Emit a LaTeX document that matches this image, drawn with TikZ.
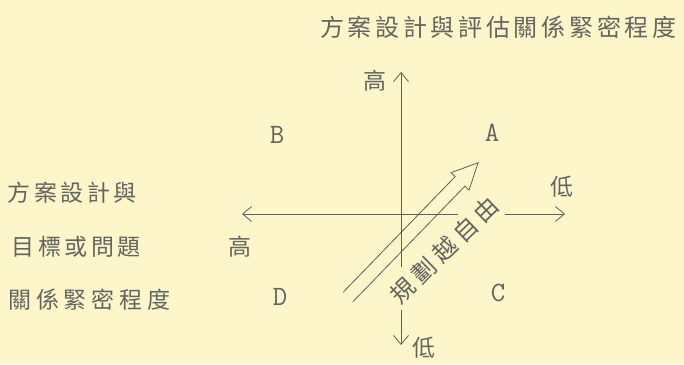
\documentclass[tikz,border=0pt]{standalone}
\usepackage{fontspec}
\newfontfamily\cjk{Noto Sans CJK TC}
\usetikzlibrary{arrows.meta}
\ExplSyntaxOn
\NewDocumentCommand\spreadchars{mm}{\tl_map_inline:nn{#2}{\makebox[#1]{##1}}}
\ExplSyntaxOff
\definecolor{bg}{RGB}{252,246,202}
\definecolor{ink}{RGB}{95,95,92}
\definecolor{txt}{RGB}{100,100,96}
\tikzset{
  lbl/.style={inner sep=0pt, text=txt, font=\cjk\fontsize{23}{23}\selectfont},
  letter/.style={inner sep=0pt, text=txt, font=\ttfamily\fontsize{28}{28}\selectfont},
  axis/.style={draw=ink, line width=0.8pt, -{Straight Barb[length=9pt,width=15pt]}},
  plain/.style={draw=ink, line width=0.8pt},
}
\begin{document}
\begin{tikzpicture}[x=1pt,y=1pt]
\fill[bg] (0,0) rectangle (684,364);
\useasboundingbox (0,0) rectangle (684,364);

% title and left text
\node[lbl, anchor=west, font=\cjk\fontsize{24}{24}\selectfont] (title) at (318,337) {\spreadchars{27.7pt}{方案設計與評估關係緊密程度}};
\node[lbl, anchor=west] (l1) at (6,171) {\spreadchars{26.5pt}{方案設計與}};
\node[lbl, anchor=west] (l2) at (10,117) {\spreadchars{26.5pt}{目標或問題}};
\node[lbl, anchor=west] (l3) at (6,64) {\spreadchars{27.7pt}{關係緊密程度}};

% axes
\coordinate (O) at (401,150);
\coordinate (vtop) at (401,292);
\coordinate (vgap1) at (401,97);
\coordinate (vgap2) at (401,54);
\coordinate (vbot) at (401,19);
\coordinate (hleft) at (242,150);
\coordinate (hgap1) at (458,150);
\coordinate (hgap2) at (505,150);
\coordinate (hright) at (565,150);
\draw[axis] (vgap1) -- (vtop);
\draw[axis] (vgap2) -- (vbot);
\draw[axis] (hgap1) -- (hleft);
\draw[axis] (hgap2) -- (hright);

% axis labels
\node[lbl] (hiT) at (375,283) {高};
\node[lbl] (loR) at (562,177) {低};
\node[lbl] (hiL) at (240,117) {高};
\node[lbl] (loB) at (424,16) {低};

% quadrant letters
\node[letter] (A) at (492,231) {A};
\node[letter] (B) at (277,229) {B};
\node[letter] (C) at (498,71) {C};
\node[letter] (D) at (280,67) {D};

% big open arrow
\begin{scope}[shift={(348,67)}, rotate=45.9]
  \coordinate (t1) at (0,6.8);
  \coordinate (b1) at (161,6.8);
  \coordinate (w1) at (161,12.5);
  \coordinate (tip) at (187,0);
  \coordinate (w2) at (161,-12.5);
  \coordinate (b2) at (161,-6.8);
  \coordinate (t2) at (0,-6.8);
  \draw[plain, line join=miter] (t1) -- (b1) -- (w1) -- (tip) -- (w2) -- (b2) -- (t2);
\end{scope}

% rotated text
\node[lbl, rotate=44, font=\cjk\fontsize{24}{24}\selectfont] (free) at (444.5,114) {\spreadchars{29pt}{規劃越自由}};
\end{tikzpicture}
\end{document}
